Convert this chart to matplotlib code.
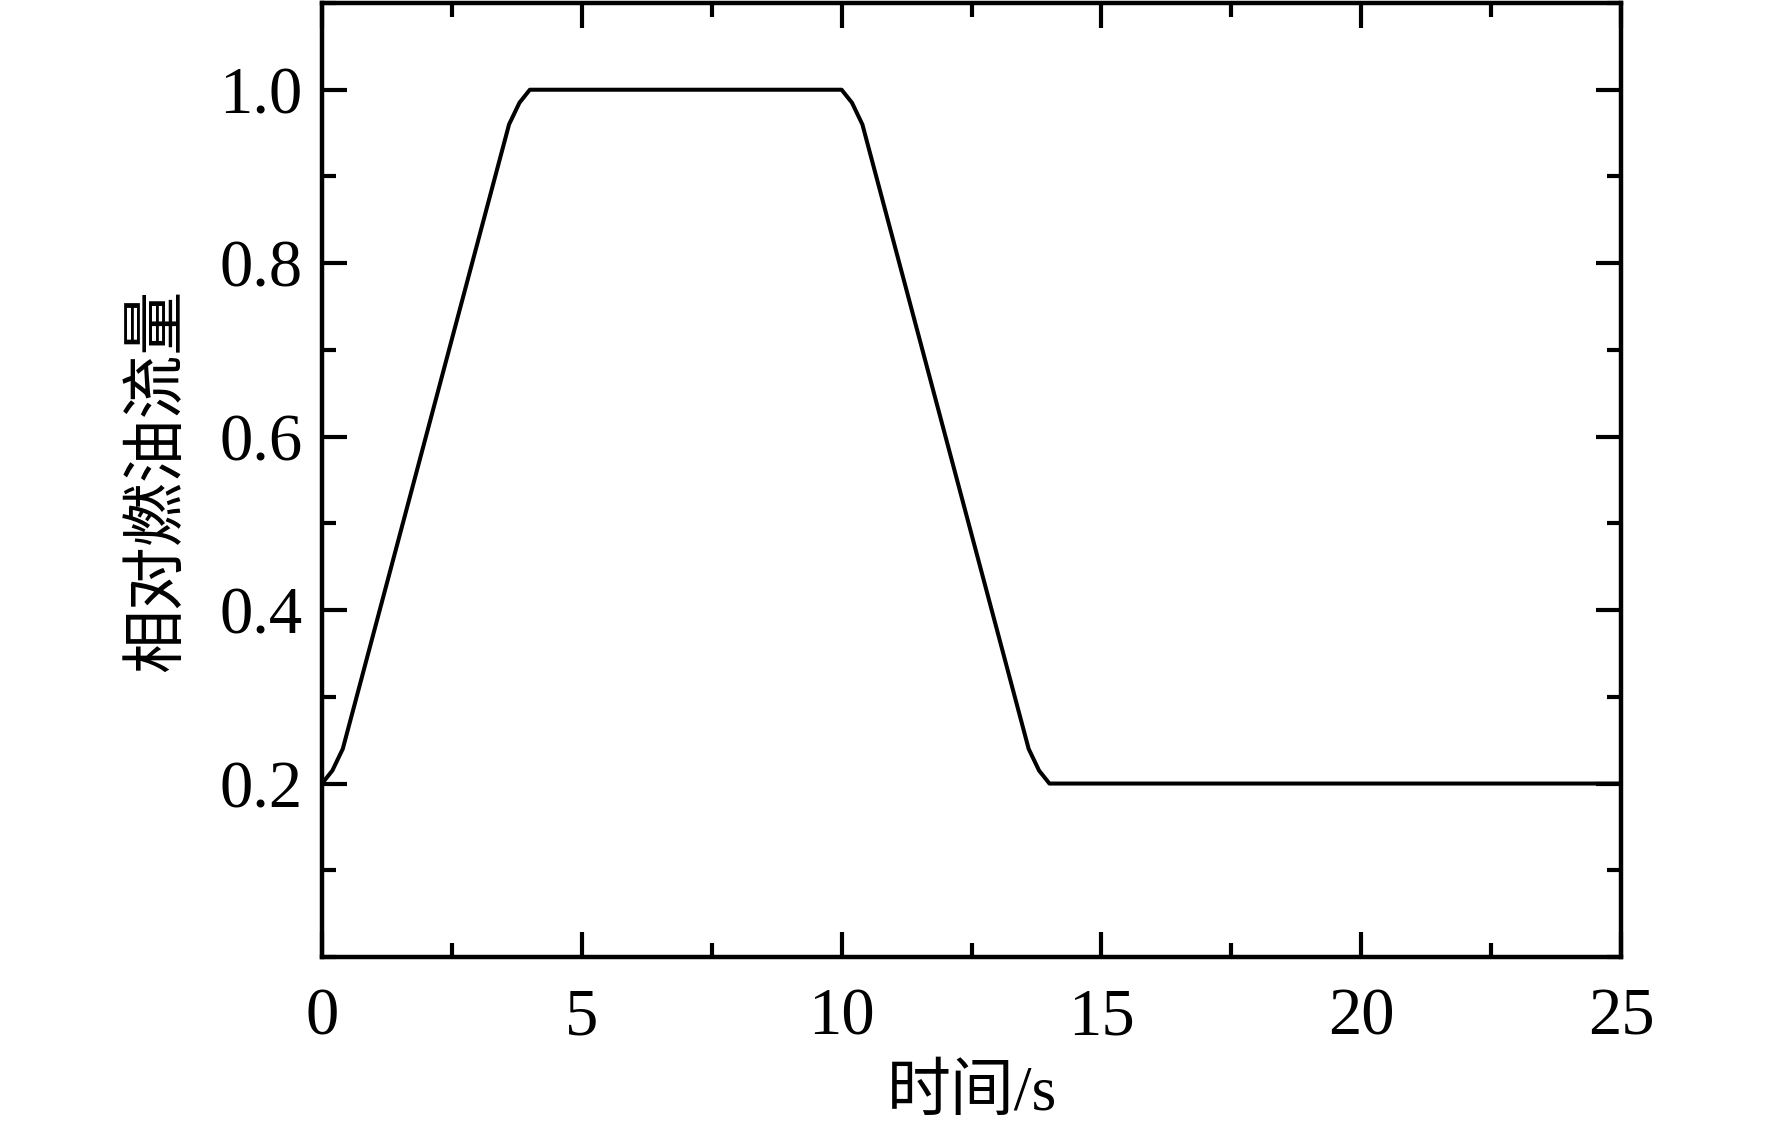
import matplotlib.pyplot as plt
from matplotlib.ticker import MultipleLocator

# 时间 (s) 与 相对燃油流量
t = [0, 0.2, 0.4, 3.6, 3.8, 4.0, 10.0, 10.2, 10.4, 13.6, 13.8, 14.0, 25]
fuel = [0.2, 0.215, 0.24, 0.96, 0.985, 1.0, 1.0, 0.985, 0.96, 0.24, 0.215, 0.2, 0.2]

xticks = [0, 5, 10, 15, 20, 25]
yticks = [0.2, 0.4, 0.6, 0.8, 1.0]

plt.rcParams['font.family'] = ['Liberation Serif', 'Noto Sans CJK SC']
plt.rcParams['mathtext.fontset'] = 'stix'

fig = plt.figure(figsize=(17.72, 11.43), dpi=100)
ax = fig.add_axes([322 / 1772, 1 - 957 / 1143, (1621 - 322) / 1772, (957 - 3) / 1143])

ax.plot(t, fuel, color='black', lw=2.9, solid_joinstyle='round')

ax.set_xlim(0, 25)
ax.set_ylim(0, 1.1)
ax.set_xticks(xticks)
ax.set_yticks(yticks)
ax.set_yticklabels([f'{v:.1f}' for v in yticks])
ax.xaxis.set_minor_locator(MultipleLocator(2.5))
ax.yaxis.set_minor_locator(MultipleLocator(0.1))

ax.tick_params(which='both', direction='in', top=True, right=True, width=3.0,
               labelsize=48, colors='black')
ax.tick_params(which='major', length=18)
ax.tick_params(which='minor', length=10)
ax.tick_params(axis='y', which='major', pad=14)
ax.tick_params(axis='x', which='major', pad=22)
for s in ax.spines.values():
    s.set_linewidth(3.2)

ax.set_xlabel('时间/s', fontsize=46, labelpad=12)
ax.set_ylabel('相对燃油流量', fontsize=46, labelpad=22)

fig.savefig('out.png', dpi=100)
